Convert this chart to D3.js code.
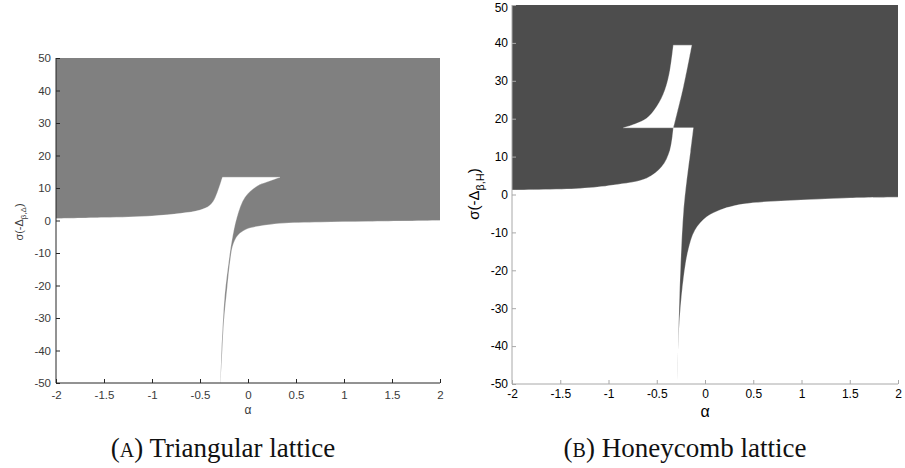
<!DOCTYPE html>
<html><head><meta charset="utf-8">
<script src="https://cdn.jsdelivr.net/npm/d3@7"></script>
<style>body{margin:0;background:#fff}svg{display:block}</style>
</head><body>
<svg id="c" width="905" height="468"></svg>
<script>
// ---- axis ticks ----
const alphaTicks = [-2, -1.5, -1, -0.5, 0, 0.5, 1, 1.5, 2];
const sigmaTicks = [-50, -40, -30, -20, -10, 0, 10, 20, 30, 40, 50];

// ---- (A) Triangular lattice: white-region boundaries ----
const triLeftAlpha  = [-2, -1.5, -1, -0.7, -0.5, -0.4, -0.35, -0.31, -0.28, -0.266];
const triLeftSigma  = [0.6, 0.9, 1.4, 2.2, 3.2, 4.6, 6.5, 9.4, 12, 13.3];
const triNotchAlpha = [0.333, 0.2, 0.094, -0.031, -0.115, -0.167, -0.2, -0.24, -0.264, -0.28, -0.286];
const triNotchSigma = [13.3, 11.9, 10.6, 7.2, 1.1, -6.0, -12.5, -22.3, -32.8, -42.9, -50];
const triRightAlpha = [-0.286, -0.27, -0.25, -0.219, -0.1875, -0.156, -0.104, -0.01, 0.125, 0.333, 0.75, 1.25, 2];
const triRightSigma = [-50, -41, -30.6, -21.4, -12.8, -7.5, -4.5, -2.6, -1.7, -0.9, -0.5, -0.3, 0];

// ---- (B) Honeycomb lattice: white-region boundaries ----
const honUpperLeftAlpha  = [-0.847, -0.725, -0.604, -0.50, -0.415, -0.363, -0.328];
const honUpperLeftSigma  = [17.6, 18.6, 20.1, 23.2, 27.6, 32.8, 39.4];
const honUpperRightAlpha = [-0.138, -0.225, -0.328];
const honUpperRightSigma = [39.4, 28.4, 17.6];
const honLeftAlpha   = [-2, -1.295, -0.95, -0.604, -0.449, -0.363, -0.328];
const honLeftSigma   = [1.2, 1.6, 2.5, 4.3, 7.3, 11.7, 17.6];
const honTongueAlpha = [-0.121, -0.152, -0.19, -0.225, -0.259, -0.287, -0.29];
const honTongueSigma = [17.6, 11.2, 3.8, -5.0, -22.6, -48.9, -50];
const honRightAlpha  = [-0.29, -0.27, -0.225, -0.173, -0.104, 0.018, 0.155, 0.3, 0.497, 0.995, 1.5, 2];
const honRightSigma  = [-50, -35.7, -22.6, -14.6, -9.4, -5.9, -4.1, -3.0, -2.2, -1.45, -0.9, -0.7];

const zip = (a, s) => a.map((v, i) => [v, s[i]]);
const svg = d3.select("#c");

function panel(cfg) {
  const x = d3.scaleLinear().domain([-2, 2]).range(cfg.xr);
  const y = d3.scaleLinear().domain([-50, 50]).range(cfg.yr);
  const g = svg.append("g");
  const curve = d3.line().x(d => x(d[0])).y(d => y(d[1])).curve(d3.curveCatmullRom.alpha(0.5));
  const straight = d3.line().x(d => x(d[0])).y(d => y(d[1]));
  const polyPath = segs => segs.map((s, i) => {
    const d = (s.length >= 3 ? curve : straight)(s.length === 1 ? [s[0], s[0]] : s);
    return i ? d.replace(/^M/, "L") : d;
  }).join("") + "Z";
  g.append("rect").attr("x", x(-2)).attr("y", y(50))
    .attr("width", x(2) - x(-2)).attr("height", y(-50) - y(50))
    .attr("fill", cfg.fill);
  cfg.polys.forEach(p => {
    g.append("path").attr("d", polyPath(p))
      .attr("fill", "#fff").attr("stroke", "#fff").attr("stroke-width", 0.3);
  });
  const ya = d3.axisLeft(y).tickValues(sigmaTicks).tickSize(-4).tickPadding(cfg.pad);
  const xa = d3.axisBottom(x).tickValues(alphaTicks).tickSize(-4).tickPadding(cfg.xpad);
  const gy = g.append("g").attr("transform", `translate(${x(-2)},0)`).call(ya);
  const gx = g.append("g").attr("transform", `translate(0,${y(-50)})`).call(xa);
  [gx, gy].forEach(a => {
    a.selectAll("path,line").attr("stroke", cfg.axis).attr("stroke-width", 1);
    a.select(".domain").attr("d", a === gx ? `M${x(-2)},0H${x(2)}` : `M0,${y(-50)}V${y(50)}`);
    a.selectAll("text").attr("font-family", "Liberation Sans, Arial, sans-serif")
      .attr("font-size", cfg.tickFs).attr("fill", cfg.tickColor)
      .text(d => String(d));
  });
  // keep the topmost label inside the page
  gy.selectAll(".tick text").filter(d => y(d) < 10).attr("dy", "0.5em");
  g.append("text").attr("x", (x(-2) + x(2)) / 2).attr("y", cfg.alphaY)
    .attr("text-anchor", "middle").attr("font-family", "Liberation Sans, Arial, sans-serif")
    .attr("font-size", cfg.alphaFs).attr("fill", cfg.tickColor).text("α");
  const yl = g.append("text").attr("transform", `translate(${cfg.ylx},${cfg.yly}) rotate(-90)`)
    .attr("text-anchor", "middle").attr("font-family", "Liberation Sans, Arial, sans-serif")
    .attr("font-size", cfg.ylFs).attr("fill", cfg.tickColor);
  yl.append("tspan").text("σ(-Δ");
  yl.append("tspan").attr("font-size", cfg.ylFs * 0.72).attr("dy", cfg.ylFs * 0.3).text(cfg.sub);
  yl.append("tspan").attr("dy", -cfg.ylFs * 0.3).text(")");
  const cap = svg.append("text").attr("x", cfg.capX).attr("y", 457)
    .attr("text-anchor", "middle").attr("font-family", "Liberation Serif, Times New Roman, serif")
    .attr("font-size", 27).attr("fill", "#111");
  cap.append("tspan").text("(");
  cap.append("tspan").attr("font-size", 20).text(cfg.capLetter);
  cap.append("tspan").text(") " + cfg.capText);
}

panel({
  xr: [56, 440], yr: [383, 58], fill: "#808080", axis: "#262626",
  tickColor: "#3a3a3a", tickFs: 11.5, pad: 5, xpad: 8,
  polys: [
    [zip(triLeftAlpha, triLeftSigma), zip(triNotchAlpha, triNotchSigma), [[-2, -50]]],
    [zip(triRightAlpha, triRightSigma), [[2, -50]]]
  ],
  alphaY: 414, alphaFs: 12, ylx: 23, yly: 222, ylFs: 11, sub: "β,Δ",
  capX: 223, capLetter: "A", capText: "Triangular lattice"
});

panel({
  xr: [512, 898], yr: [384, 5], fill: "#4d4d4d", axis: "#a8a8a8",
  tickColor: "#000", tickFs: 12, pad: 4, xpad: 5,
  polys: [
    [zip(honUpperLeftAlpha, honUpperLeftSigma), zip(honUpperRightAlpha, honUpperRightSigma)],
    [zip(honLeftAlpha, honLeftSigma), zip(honTongueAlpha, honTongueSigma), [[-2, -50]]],
    [zip(honRightAlpha, honRightSigma), [[2, -50]]]
  ],
  alphaY: 417, alphaFs: 16, ylx: 479, yly: 194, ylFs: 15, sub: "β,H",
  capX: 685, capLetter: "B", capText: "Honeycomb lattice"
});
</script>
</body></html>
